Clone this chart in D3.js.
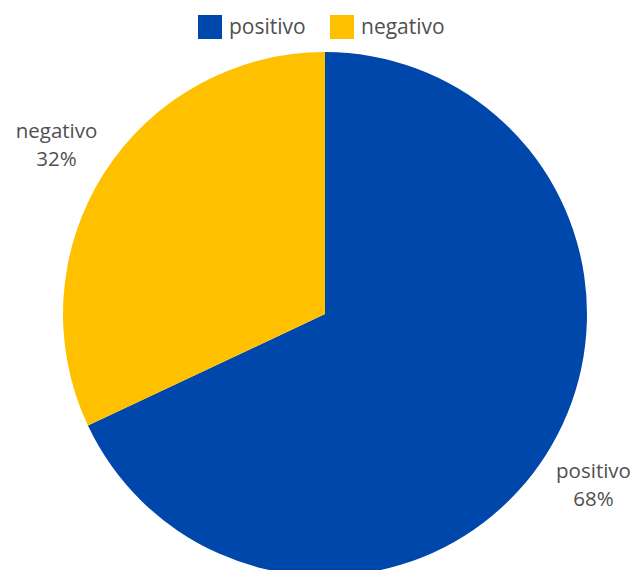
<!DOCTYPE html>
<html>
<head>
<meta charset="utf-8">
<script src="https://cdn.jsdelivr.net/npm/d3@7"></script>
<style>
  html, body { margin: 0; padding: 0; background: #fff; }
  svg { display: block; }
  text { font-family: "Open Sans", "Noto Sans", sans-serif; fill: #505050; }
</style>
</head>
<body>
<svg id="chart" width="632" height="570"></svg>
<script>
// Sentiment shares
const categories = ["positivo", "negativo"];
const values = [68, 32];
const colors = ["#0047AB", "#FFC000"];

const width = 632, height = 570;
const cx = 325, cy = 314, radius = 262, labelRadius = 318;

const svg = d3.select("#chart");

const color = d3.scaleOrdinal().domain(categories).range(colors);

const data = categories.map((c, i) => ({ category: c, value: values[i] }));

const pie = d3.pie().value(d => d.value).sort(null);
const arcs = pie(data);

const arc = d3.arc().innerRadius(0).outerRadius(radius);
const labelArc = d3.arc().innerRadius(labelRadius).outerRadius(labelRadius);

const g = svg.append("g").attr("transform", `translate(${cx},${cy})`);

g.selectAll("path.slice")
  .data(arcs)
  .join("path")
  .attr("class", "slice")
  .attr("d", arc)
  .attr("fill", d => color(d.data.category));

// Outside labels: category name and percentage, as two text lines
const total = d3.sum(values);
const labels = g.selectAll("g.lbl")
  .data(arcs)
  .join("g")
  .attr("class", "lbl")
  .attr("transform", d => {
    const [x, y] = labelArc.centroid(d);
    return `translate(${x},${y})`;
  });
labels.append("text")
  .attr("text-anchor", "middle")
  .attr("font-size", 20.5)
  .attr("y", -6)
  .text(d => d.data.category);
labels.append("text")
  .attr("text-anchor", "middle")
  .attr("font-size", 20.5)
  .attr("y", 22)
  .text(d => Math.round(d.data.value / total * 100) + "%");

// Legend
const legendItems = [
  { category: categories[0], x: 198 },
  { category: categories[1], x: 330 }
];
const legend = svg.append("g");
const li = legend.selectAll("g")
  .data(legendItems)
  .join("g")
  .attr("transform", d => `translate(${d.x},15)`);
li.append("rect")
  .attr("width", 24).attr("height", 24)
  .attr("fill", d => color(d.category));
li.append("text")
  .attr("x", 31).attr("y", 19)
  .attr("font-size", 21)
  .text(d => d.category);
</script>
</body>
</html>
